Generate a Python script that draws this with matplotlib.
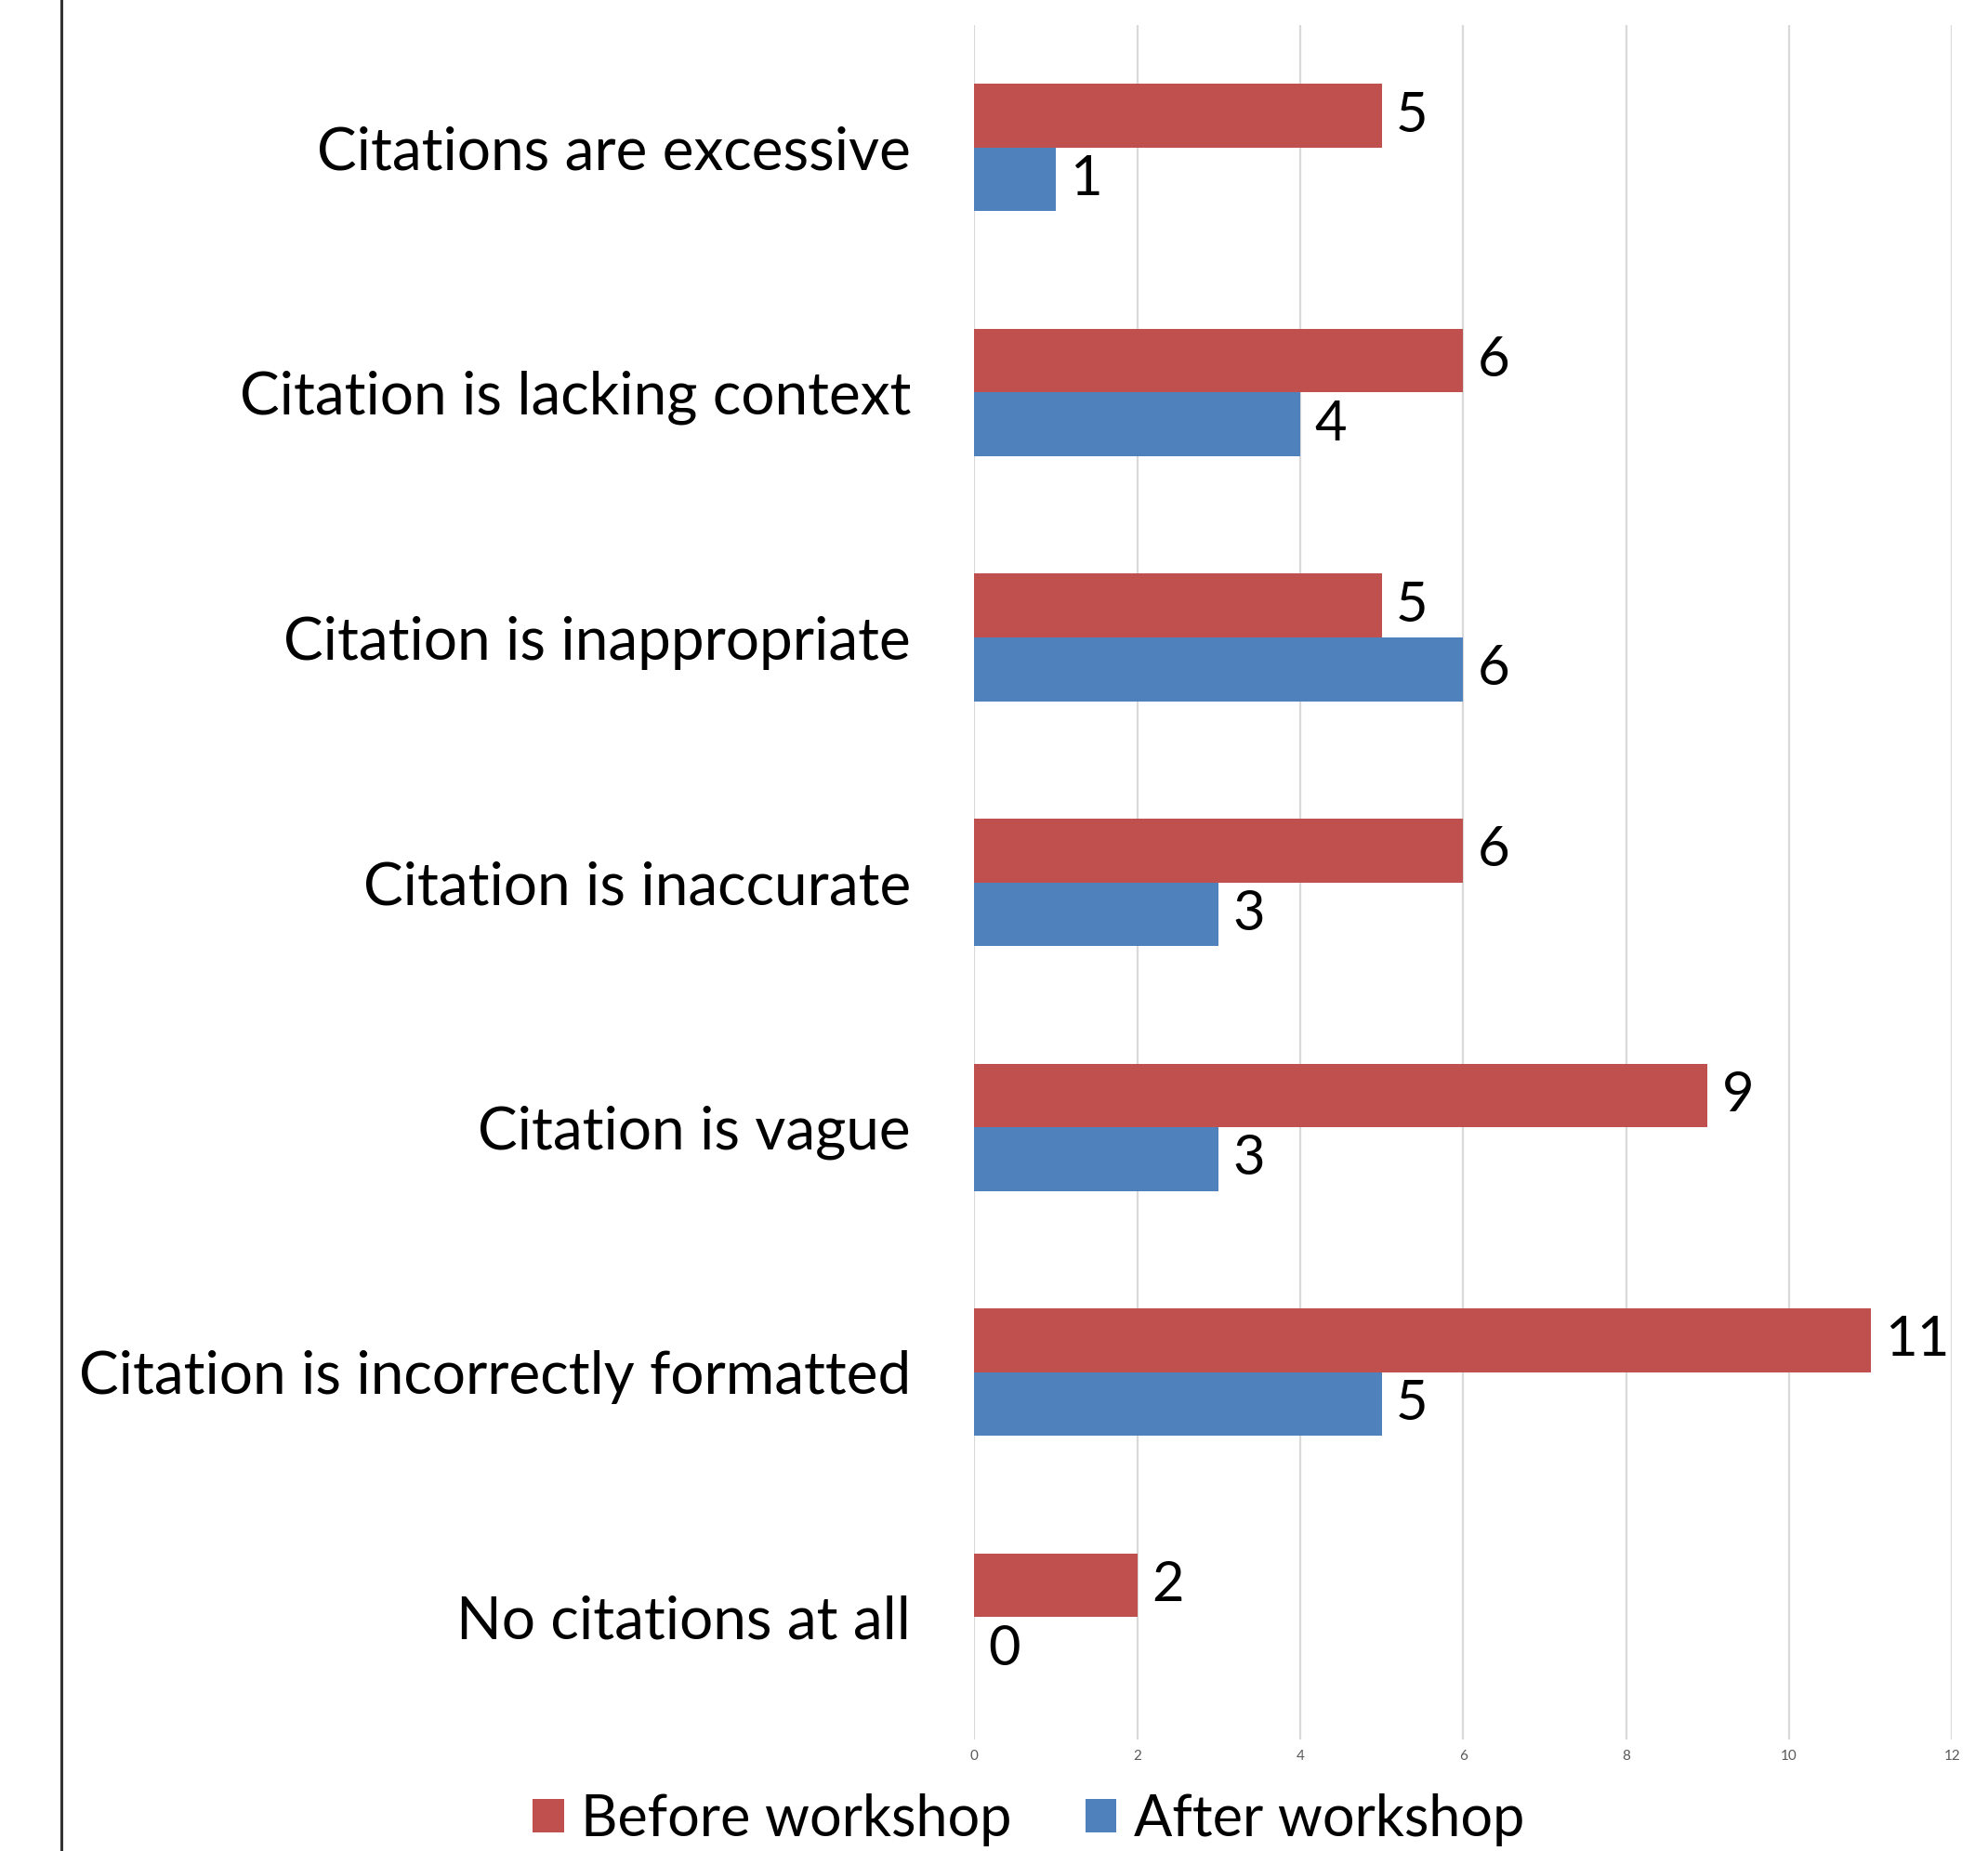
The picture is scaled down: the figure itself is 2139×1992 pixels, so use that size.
import matplotlib
matplotlib.use('Agg')
import matplotlib.pyplot as plt
from matplotlib.lines import Line2D
import numpy as np

# data, bottom to top
categories = ['No citations at all', 'Citation is incorrectly formatted',
              'Citation is vague', 'Citation is inaccurate',
              'Citation is inappropriate', 'Citation is lacking context',
              'Citations are excessive']
before = [2, 11, 9, 6, 5, 6, 5]
after = [0, 5, 3, 3, 6, 4, 1]
xticks = [0, 2, 4, 6, 8, 10, 12]

plt.rcParams['font.family'] = ['Lato', 'DejaVu Sans']
cat_fs = 46
val_fs = 43
leg_fs = 44

red = '#C0504D'
blue = '#4F81BD'

fig = plt.figure(figsize=(21.39, 19.92), dpi=100)
ax = fig.add_axes([0.490, 0.0602, 0.982 - 0.490, 0.9864 - 0.0602])

y = np.arange(len(categories))
h = 0.26
b1 = ax.barh(y + h/2, before, height=h, color=red, label='Before workshop', zorder=3)
b2 = ax.barh(y - h/2, after, height=h, color=blue, label='After workshop', zorder=3)
ax.bar_label(b1, padding=11, fontsize=val_fs, color='black')
ax.bar_label(b2, padding=11, fontsize=val_fs, color='black')

ax.set_xlim(0, 12)
ax.set_ylim(-0.5, len(categories) - 0.5)
ax.set_xticks(xticks)
ax.set_xticklabels([str(t) for t in xticks], fontsize=11, color='#595959')
ax.set_yticks(y)
ax.set_yticklabels(categories, fontsize=cat_fs, color='black')
ax.tick_params(axis='both', length=0)
ax.tick_params(axis='y', pad=49)
ax.tick_params(axis='x', pad=8)
for s in ax.spines.values():
    s.set_visible(False)
ax.grid(axis='x', color='#d9d9d9', lw=1.6, zorder=0)

fig.legend(loc='center left', bbox_to_anchor=(573/2139, 0.017), ncol=2,
           frameon=False, fontsize=leg_fs, handlelength=0.55, handleheight=0.55,
           handletextpad=0.3, columnspacing=1.3, borderpad=0, borderaxespad=0)

fig.add_artist(Line2D([66/2139, 66/2139], [0, 1], color='#333333', lw=2.2))

fig.savefig('out.png', dpi=100)
